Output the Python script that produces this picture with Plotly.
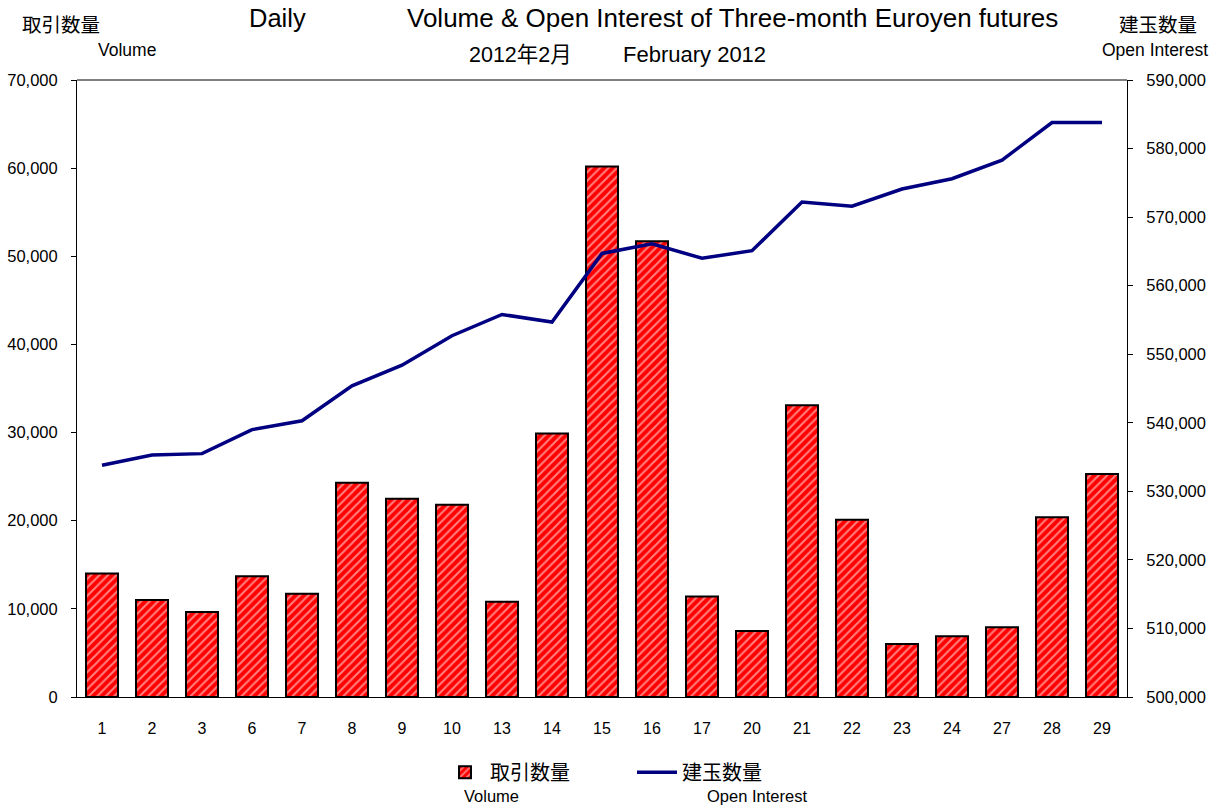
import plotly.graph_objects as go

# trading days of February 2012
days = ["1", "2", "3", "6", "7", "8", "9", "10", "13", "14", "15",
        "16", "17", "20", "21", "22", "23", "24", "27", "28", "29"]

# 取引数量 / Volume
volume = [14000, 11000, 9650, 13700, 11700, 24300, 22500, 21800, 10800, 29900, 60200,
          51700, 11400, 7500, 33100, 20100, 6000, 6900, 7900, 20400, 25300]

# 建玉数量 / Open Interest
open_interest = [533800, 535300, 535500, 539000, 540300, 545400, 548400, 552700, 555800, 554700, 564700,
                 566100, 564000, 565100, 572200, 571600, 574100, 575600, 578300, 583800, 583800]

FONT = "Liberation Sans, Noto Sans CJK JP"

fig = go.Figure()

fig.add_trace(go.Bar(
    x=days, y=volume, name="取引数量",
    width=0.64,
    marker=dict(color="#ff0000",
                line=dict(color="black", width=2),
                pattern=dict(shape="/", fgcolor="white", bgcolor="#ff0000",
                             size=6, solidity=0.35)),
))

fig.add_trace(go.Scatter(
    x=days, y=open_interest, name="建玉数量", yaxis="y2",
    mode="lines", line=dict(color="#000080", width=3.5),
))

fig.update_layout(
    width=1224, height=809,
    margin=dict(l=77, r=97, t=80, b=112),
    plot_bgcolor="white", paper_bgcolor="white",
    font=dict(family=FONT, size=16, color="black"),
    showlegend=True,
    legend=dict(orientation="h", x=(440 - 77) / 1050, xanchor="left",
                y=-0.122, yanchor="middle",
                font=dict(family=FONT, size=20), entrywidth=137, itemwidth=40,
                bgcolor="rgba(0,0,0,0)"),
    xaxis=dict(showline=True, linecolor="black", linewidth=1, ticks="",
               tickfont=dict(size=16), ticklabelstandoff=17, automargin=False),
    yaxis=dict(range=[0, 70000], dtick=10000, tickformat=",d",
               showline=True, linecolor="black", linewidth=1,
               ticks="outside", ticklen=5, tickcolor="black",
               showgrid=False, zeroline=False, tickfont=dict(size=16.5),
               ticklabelstandoff=10, automargin=False),
    yaxis2=dict(range=[500000, 590000], dtick=10000, tickformat=",d",
                overlaying="y", side="right",
                showline=True, linecolor="black", linewidth=1,
                ticks="outside", ticklen=5, tickcolor="black",
                showgrid=False, zeroline=False, tickfont=dict(size=16.5),
                ticklabelstandoff=10, automargin=False),
)

# top border of plot area
fig.add_shape(type="line", xref="paper", yref="paper", x0=0, x1=1, y0=1, y1=1,
              line=dict(color="black", width=1))


def label(text, px, py, size, anchor="left"):
    # px, py: pixel position of the text (plot area spans 77..1127, 80..697)
    fig.add_annotation(text=text, xref="paper", yref="paper",
                       x=(px - 77) / 1050, y=(697 - py) / 617,
                       xanchor=anchor, yanchor="middle", showarrow=False,
                       font=dict(family=FONT, size=size, color="black"))


label("取引数量", 20, 25, 19.5)
label("Volume", 96, 50, 17.5)
label("Daily", 247, 18, 25.5)
label("Volume & Open Interest of Three-month Euroyen futures", 405, 18, 26)
label("2012年2月", 467, 55, 21.5)
label("February 2012", 621, 55, 22)
label("建玉数量", 1117, 25, 19.5)
label("Open Interest", 1100, 50, 17.5)
label("Volume", 462, 796, 16.5)
label("Open Interest", 705, 796, 16.5)

# drop the default 8px page margin so the figure fills the window
fig.write_html("out.html", config={"displayModeBar": False},
               post_script="document.body.style.margin = '0px';")
